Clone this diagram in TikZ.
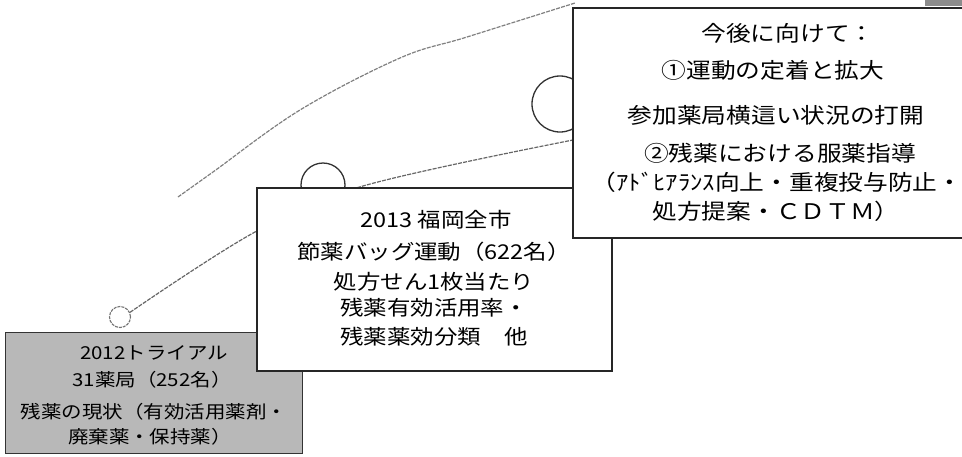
\documentclass[tikz,border=0pt]{standalone}
\usepackage{fontspec}
\setmainfont{Noto Sans CJK JP}
\newfontfamily\jpw[FakeStretch=1.15]{Noto Sans CJK JP}
\begin{document}
\begin{tikzpicture}[x=1pt,y=-1pt,
  boxw/.style={draw=black!85, line width=1.6pt, fill=white, inner sep=0pt, outer sep=0pt},
  boxg/.style={draw=black!80, line width=1.4pt, fill=black!28, inner sep=0pt, outer sep=0pt},
  arcline/.style={draw=black!60, line width=1.2pt, dash pattern=on 4pt off 1.2pt},
  ring/.style={circle, draw=black!80, line width=1.3pt, fill=none, inner sep=0pt},
  ringlight/.style={circle, draw=black!55, line width=1.1pt, dash pattern=on 3pt off 1pt, inner sep=0pt},
  ta/.style={inner sep=0pt, font=\jpw\fontsize{17.8}{20}\selectfont},
  tb/.style={inner sep=0pt, font=\jpw\fontsize{20.4}{23}\selectfont},
  tc/.style={inner sep=0pt, font=\jpw\fontsize{21.5}{24}\selectfont}]
\clip (0,0) rectangle (962,456);
\fill[white] (0,0) rectangle (962,456);
\fill[black!45] (925,0) rectangle (962,6);

% connectors (timeline arcs)
\node[ringlight, minimum size=21pt] (c1) at (120,317) {};
\node[ring, minimum size=44pt] (c2) at (323,185) {};
\node[ring, minimum size=56pt] (c3) at (560,104) {};

\coordinate (m1) at (255,232);
\coordinate (m2) at (363,186);
\coordinate (e1) at (573,140);
\draw[arcline] plot[smooth, tension=0.6] coordinates {(c1.25) (m1) (m2) (e1)};

\coordinate (u0) at (178,197);
\coordinate (u1) at (213,172);
\coordinate (u2) at (300,110);
\coordinate (u3) at (400,58);
\coordinate (u4) at (467,37);
\coordinate (u5) at (575,3);
\draw[arcline, draw=black!50] plot[smooth, tension=0.6] coordinates {(u0) (u1) (u2) (u3) (u4) (u5)};

% box 1 (gray)
\node[boxg, minimum width=297pt, minimum height=121pt] (b1) at (154,393) {};
\node[ta] (t11) at (154,353) {2012トライアル};
\node[ta] (t12) at (152,380) {31薬局（252名）};
\node[ta] (t13) at (154,412) {残薬の現状（有効活用薬剤・};
\node[ta] (t14) at (150,437) {廃棄薬・保持薬）};

% box 2
\node[boxw, minimum width=355pt, minimum height=183pt] (b2) at (434.5,279.5) {};
\node[tb] (t21) at (436,220) {2013 福岡全市};
\node[tb] (t22) at (434,252) {節薬バッグ運動（622名）};
\node[tb] (t23) at (434,282) {処方せん1枚当たり};
\node[tb] (t24) at (434,308) {残薬有効活用率・};
\node[tb] (t25) at (434,337) {残薬薬効分類　他};

% box 3
\node[boxw, minimum width=430pt, minimum height=230pt] (b3) at (788,123) {};
\node[tc] (t31) at (788,33) {今後に向けて：};
\node[tc] (t32) at (773,70) {①運動の定着と拡大};
\node[tc] (t33) at (776,115) {参加薬局横這い状況の打開};
\node[tc] (t34) at (780,153) {②残薬における服薬指導};
\node[tc] (t35) at (777,182) {（ｱﾄﾞﾋｱﾗﾝｽ向上・重複投与防止・};
\node[tc] (t36) at (776,211) {処方提案・ＣＤＴＭ）};
\end{tikzpicture}
\end{document}
